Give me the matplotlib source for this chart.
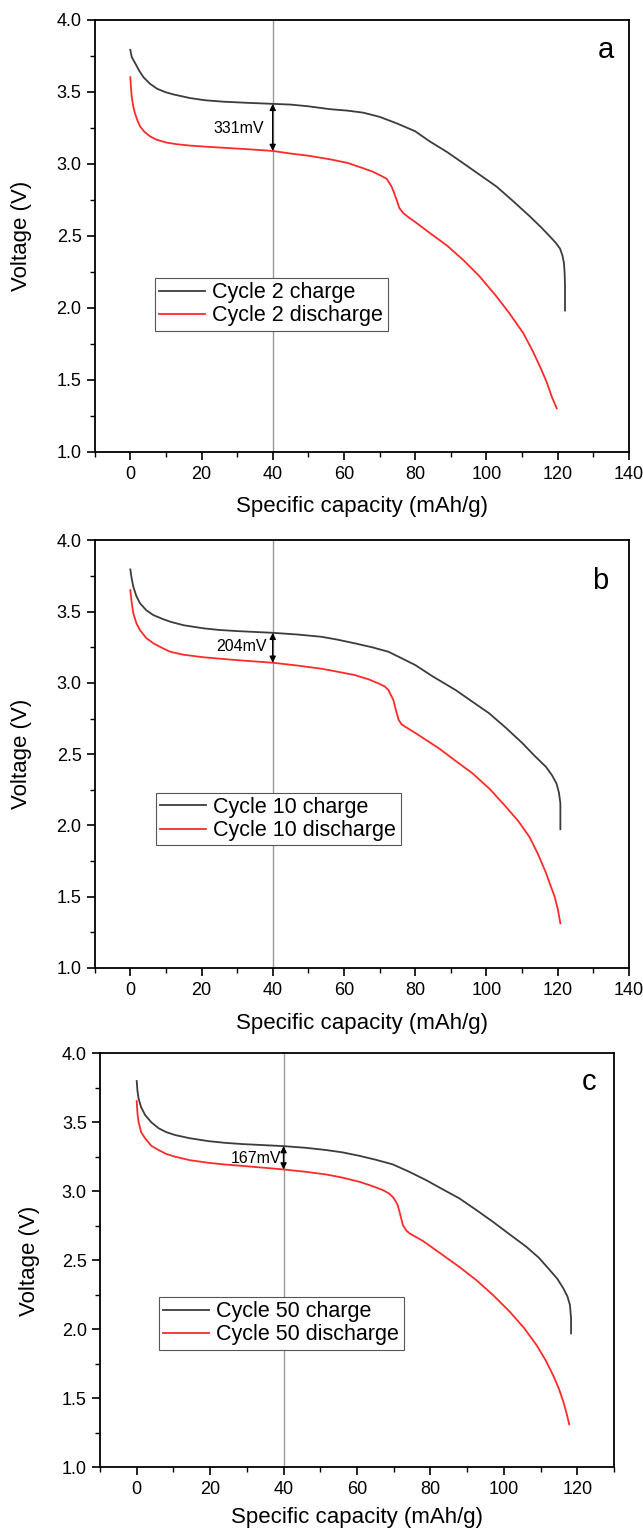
import numpy as np
import matplotlib
matplotlib.use('Agg')
import matplotlib.pyplot as plt
from matplotlib.ticker import MultipleLocator

plt.rcParams['font.family'] = ['Liberation Sans', 'DejaVu Sans']

# panel a : cycle 2
cap_a_ch = [0, 0.4, 1.3, 2.5, 3.7, 5.5, 7.5, 10, 12.2, 16.8, 21, 26.2, 33, 40, 45, 50, 56.1, 61, 65.4,
            70, 74.8, 80, 84.2, 89, 93.5, 98, 102.9, 107.5, 112.3, 115.5, 117.9, 119.5, 120.7,
            121.4, 121.8, 122, 122.1, 122.1]
v_a_ch   = [3.79, 3.74, 3.70, 3.645, 3.60, 3.555, 3.52, 3.495, 3.48, 3.455, 3.44, 3.43, 3.422, 3.415, 3.41,
            3.398, 3.378, 3.368, 3.354, 3.325, 3.28, 3.225, 3.153, 3.08, 3.003, 2.925, 2.84, 2.74, 2.632,
            2.555, 2.493, 2.45, 2.41, 2.36, 2.31, 2.24, 2.15, 1.98]
cap_a_dc = [0, 0.2, 0.4, 0.8, 1.3, 2, 2.7, 4, 5.5, 7.5, 10.2, 13, 16.8, 21, 26.2, 33, 40, 45, 50, 56.1,
            61, 65.4, 68, 70.5, 72, 73.4, 74.2, 74.8, 75.6, 76.7, 78, 80, 84.2, 89, 93.5, 98, 102.9,
            106.5, 110.4, 113, 115.1, 117, 118.4, 119.8]
v_a_dc   = [3.60, 3.52, 3.465, 3.40, 3.35, 3.30, 3.26, 3.22, 3.19, 3.165, 3.146, 3.135, 3.125, 3.118, 3.11,
            3.10, 3.088, 3.07, 3.055, 3.03, 3.005, 2.968, 2.945, 2.915, 2.895, 2.84, 2.79, 2.748, 2.69,
            2.656, 2.63, 2.595, 2.517, 2.43, 2.331, 2.22, 2.076, 1.96, 1.822, 1.70, 1.59, 1.48, 1.38, 1.30]

# panel b : cycle 10
cap_b_ch = [0, 0.4, 0.85, 1.7, 2.7, 4.5, 6.5, 9, 11.2, 15, 20.7, 25, 30.1, 40, 47, 53.7, 58, 63.1, 68,
            72.5, 76.5, 80.1, 85, 91.4, 96, 100.8, 105.5, 110.2, 113.5, 116.8, 118.5, 119.7, 120.4,
            120.8, 120.8]
v_b_ch   = [3.797, 3.73, 3.675, 3.61, 3.56, 3.51, 3.476, 3.45, 3.43, 3.405, 3.383, 3.372, 3.364, 3.352,
            3.34, 3.324, 3.305, 3.278, 3.25, 3.219, 3.17, 3.125, 3.045, 2.95, 2.87, 2.787, 2.685, 2.576,
            2.49, 2.41, 2.35, 2.295, 2.23, 2.155, 1.973]
cap_b_dc = [0, 0.4, 0.85, 1.7, 2.7, 4.5, 6.5, 9, 11.2, 15, 20.7, 30, 40, 47, 53.7, 58, 63.1, 67, 69.7,
            71.5, 72.5, 73.3, 73.9, 74.7, 75.4, 76.2, 77.2, 80, 86.7, 91, 96.1, 101, 105.5, 109, 112.1,
            114.5, 116.8, 118, 119.2, 120.1, 120.8]
v_b_dc   = [3.652, 3.56, 3.488, 3.42, 3.371, 3.315, 3.278, 3.245, 3.219, 3.198, 3.18, 3.16, 3.142, 3.122,
            3.10, 3.08, 3.055, 3.025, 2.997, 2.975, 2.95, 2.91, 2.88, 2.80, 2.74, 2.71, 2.693, 2.65, 2.541,
            2.46, 2.366, 2.255, 2.131, 2.03, 1.92, 1.80, 1.664, 1.58, 1.50, 1.41, 1.313]

# panel c : cycle 50
cap_c_ch = [0, 0.2, 0.5, 1.2, 2.3, 4, 6, 8, 10.5, 14.5, 19.6, 24, 28.7, 40, 46, 51.5, 56, 60.6, 65,
            69.7, 74, 78.8, 83, 87.9, 92.5, 97, 101.5, 106.1, 109.5, 112.5, 114.6, 116.2, 117.3, 118,
            118.3, 118.3]
v_c_ch   = [3.80, 3.73, 3.674, 3.61, 3.553, 3.50, 3.457, 3.43, 3.408, 3.385, 3.364, 3.352, 3.343, 3.328,
            3.316, 3.30, 3.283, 3.258, 3.23, 3.196, 3.145, 3.082, 3.02, 2.949, 2.865, 2.78, 2.69, 2.599,
            2.52, 2.43, 2.365, 2.297, 2.24, 2.176, 2.08, 1.971]
cap_c_dc = [0, 0.2, 0.5, 1.2, 2.3, 4, 6, 8, 10.5, 14.5, 19.6, 24, 28.7, 40, 46, 51.5, 56, 60.6, 64, 67,
            68.7, 69.7, 70.5, 71.1, 71.8, 72.5, 73.3, 74.3, 78, 83.4, 88, 92.5, 97, 101.6, 105.5, 108.9,
            111.3, 113.4, 115, 116.2, 117.1, 117.8]
v_c_dc   = [3.654, 3.57, 3.504, 3.43, 3.384, 3.33, 3.299, 3.272, 3.251, 3.226, 3.207, 3.195, 3.185, 3.159,
            3.142, 3.123, 3.10, 3.07, 3.04, 3.01, 2.985, 2.961, 2.93, 2.90, 2.83, 2.756, 2.72, 2.696, 2.64,
            2.538, 2.45, 2.357, 2.25, 2.128, 2.01, 1.886, 1.78, 1.669, 1.57, 1.475, 1.39, 1.312]

labels = [('Cycle 2 charge', 'Cycle 2 discharge'),
          ('Cycle 10 charge', 'Cycle 10 discharge'),
          ('Cycle 50 charge', 'Cycle 50 discharge')]
letters = ['a', 'b', 'c']
gap_text = ['331mV', '204mV', '167mV']
gap_lo = [3.088, 3.142, 3.159]
gap_hi = [3.415, 3.352, 3.328]
xmax = [140, 140, 130]

curves = [(cap_a_ch, v_a_ch, cap_a_dc, v_a_dc),
          (cap_b_ch, v_b_ch, cap_b_dc, v_b_dc),
          (cap_c_ch, v_c_ch, cap_c_dc, v_c_dc)]

fig = plt.figure(figsize=(6.43, 15.32), dpi=100)
boxes = [[0.1473, 0.7052, 0.8305, 0.282],
         [0.1473, 0.3682, 0.8305, 0.279],
         [0.1555, 0.0422, 0.7994, 0.2702]]
leg_pos = [(0.113, 0.402), (0.115, 0.41), (0.115, 0.412)]
let_pos = [(0.957, 0.93), (0.947, 0.905), (0.951, 0.93)]
txt_pos = [(37.4, 3.246), (38.3, 3.254), (39.3, 3.239)]
xpad = [10, 10, 6]
ypad = [18, 18, 16]

for i in range(3):
    ax = fig.add_axes(boxes[i])
    xc, vc, xd, vd = curves[i]
    ax.axvline(40, color='#999999', lw=1.0, zorder=1)
    ax.plot(xc, vc, color='#3c3c3c', lw=1.3, label=labels[i][0])
    ax.plot(xd, vd, color='#ff2a2a', lw=1.3, label=labels[i][1])
    ax.annotate('', xy=(40, gap_hi[i]), xytext=(40, gap_lo[i]),
                arrowprops=dict(arrowstyle='<|-|>', color='black', lw=1.0,
                                mutation_scale=9, shrinkA=0, shrinkB=0))
    ax.text(txt_pos[i][0], txt_pos[i][1], gap_text[i], fontsize=11.5,
            ha='right', va='center')
    ax.text(let_pos[i][0], let_pos[i][1], letters[i], transform=ax.transAxes,
            fontsize=21, ha='center', va='center')
    ax.set_xlim(-10, xmax[i])
    ax.set_ylim(1.0, 4.0)
    ax.xaxis.set_major_locator(MultipleLocator(20))
    ax.xaxis.set_minor_locator(MultipleLocator(10))
    ax.yaxis.set_major_locator(MultipleLocator(0.5))
    ax.yaxis.set_minor_locator(MultipleLocator(0.25))
    ax.tick_params(which='major', direction='out', length=6, width=1.2, labelsize=13)
    ax.tick_params(which='minor', direction='out', length=3.5, width=1.0)
    ax.tick_params(axis='x', pad=4)
    for s in ax.spines.values():
        s.set_linewidth(1.3)
    ax.set_xlabel('Specific capacity (mAh/g)', fontsize=16, labelpad=xpad[i])
    ax.set_ylabel('Voltage (V)', fontsize=16, labelpad=ypad[i])
    leg = ax.legend(loc='upper left', bbox_to_anchor=leg_pos[i], borderaxespad=0,
                    fontsize=15.5, fancybox=False, framealpha=1, edgecolor='#555555',
                    handlelength=2.1, handletextpad=0.36, borderpad=0.2,
                    labelspacing=0.1)
    leg.get_frame().set_linewidth(0.8)

fig.savefig('out.png', dpi=100)
